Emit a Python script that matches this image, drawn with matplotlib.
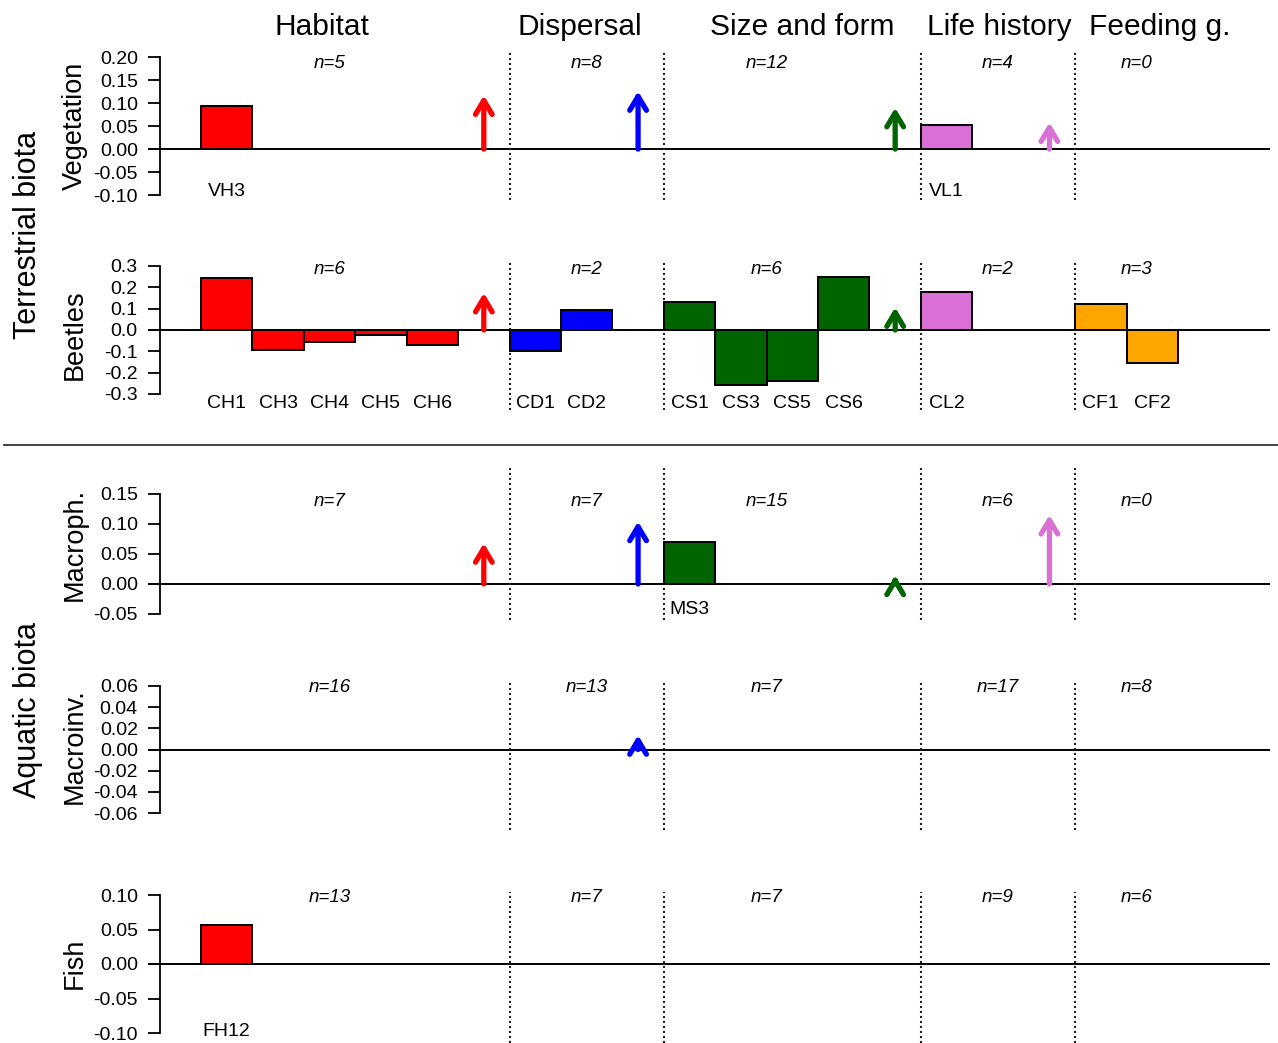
import matplotlib
matplotlib.use('Agg')
import matplotlib.pyplot as plt
from matplotlib.lines import Line2D
from matplotlib.transforms import blended_transform_factory

plt.rcParams['font.family'] = ['Liberation Sans', 'DejaVu Sans']
plt.rcParams['axes.unicode_minus'] = False

# ---------------- data ----------------
groups = ['Habitat', 'Dispersal', 'Size and form', 'Life history', 'Feeding g.']
group_slots = [5, 2, 4, 2, 2]
group_colors = ['#FF0000', '#0000FF', '#006400', '#DA70D6', '#FFA500']

panel_names = ['Vegetation', 'Beetles', 'Macroph.', 'Macroinv.', 'Fish']

veg_n = [5, 8, 12, 4, 0]
beetles_n = [6, 2, 6, 2, 3]
macroph_n = [7, 7, 15, 6, 0]
macroinv_n = [16, 13, 7, 17, 8]
fish_n = [13, 7, 7, 9, 6]

veg_arrows = [0.117, 0.126, 0.090, 0.058, None]
beetles_arrows = [0.174, None, 0.106, None, None]
macroph_arrows = [0.068, 0.104, 0.014, 0.115, None]
macroinv_arrows = [None, 0.0135, None, None, None]
fish_arrows = [None, None, None, None, None]

veg_bar_labels = ['VH3', 'VL1']
veg_bar_groups = ['Habitat', 'Life history']
veg_bar_values = [0.093, 0.053]

beetles_bar_labels = ['CH1', 'CH3', 'CH4', 'CH5', 'CH6', 'CD1', 'CD2',
                      'CS1', 'CS3', 'CS5', 'CS6', 'CL2', 'CF1', 'CF2']
beetles_bar_groups = (['Habitat'] * 5 + ['Dispersal'] * 2 + ['Size and form'] * 4
                      + ['Life history'] + ['Feeding g.'] * 2)
beetles_bar_values = [0.245, -0.093, -0.055, -0.023, -0.070, -0.097, 0.093,
                      0.132, -0.257, -0.238, 0.249, 0.176, 0.120, -0.156]

macroph_bar_labels = ['MS3']
macroph_bar_groups = ['Size and form']
macroph_bar_values = [0.070]

macroinv_bar_labels = []
macroinv_bar_groups = []
macroinv_bar_values = []

fish_bar_labels = ['FH12']
fish_bar_groups = ['Habitat']
fish_bar_values = [0.057]

veg_yticks = [0.20, 0.15, 0.10, 0.05, 0.00, -0.05, -0.10]
beetles_yticks = [0.3, 0.2, 0.1, 0.0, -0.1, -0.2, -0.3]
macroph_yticks = [0.15, 0.10, 0.05, 0.00, -0.05]
macroinv_yticks = [0.06, 0.04, 0.02, 0.00, -0.02, -0.04, -0.06]
fish_yticks = [0.10, 0.05, 0.00, -0.05, -0.10]

# ---------------- layout ----------------
W, H = 1278, 1043
fig = plt.figure(figsize=(W / 100, H / 100), dpi=100)

AX_L, AX_R = 148, 1270          # pixel extent of plot region
X0_PX, UNIT_PX = 201, 51.42     # pixel of x=0 and one slot
xlim = ((AX_L - X0_PX) / UNIT_PX, (AX_R - X0_PX) / UNIT_PX)
spine_frac = (160 - AX_L) / (AX_R - AX_L)

group_start = []
s = 0
for k in group_slots:
    group_start.append(s)
    s += k + 1

n_label_x = [2.5, 7.5, 11.0, 15.5, 18.2]
title_x = [2.35, 7.37, 11.69, 15.52, 18.65]

panels = [
    dict(n=veg_n, arrows=veg_arrows, labels=veg_bar_labels, bgroups=veg_bar_groups,
         values=veg_bar_values, ticks=veg_yticks, fmt='{:.2f}',
         T=52, B=200, pmax=57.3, pmin=195, n_y=63, lab_y=191, ylab_y=126),
    dict(n=beetles_n, arrows=beetles_arrows, labels=beetles_bar_labels,
         bgroups=beetles_bar_groups, values=beetles_bar_values,
         ticks=beetles_yticks, fmt='{:.1f}',
         T=262, B=410, pmax=266, pmin=394, n_y=270, lab_y=403, ylab_y=335),
    dict(n=macroph_n, arrows=macroph_arrows, labels=macroph_bar_labels,
         bgroups=macroph_bar_groups, values=macroph_bar_values,
         ticks=macroph_yticks, fmt='{:.2f}',
         T=468, B=620, pmax=494, pmin=614, n_y=501, lab_y=609, ylab_y=544),
    dict(n=macroinv_n, arrows=macroinv_arrows, labels=macroinv_bar_labels,
         bgroups=macroinv_bar_groups, values=macroinv_bar_values,
         ticks=macroinv_yticks, fmt='{:.2f}',
         T=682, B=830, pmax=686, pmin=813, n_y=688, lab_y=808, ylab_y=746),
    dict(n=fish_n, arrows=fish_arrows, labels=fish_bar_labels,
         bgroups=fish_bar_groups, values=fish_bar_values,
         ticks=fish_yticks, fmt='{:.2f}',
         T=892, B=1043, pmax=895, pmin=1033, n_y=898, lab_y=1030, ylab_y=963),
]

TICK_FS = 14
for name, p in zip(panel_names, panels):
    vmax, vmin = max(p['ticks']), min(p['ticks'])
    scale = (vmax - vmin) / (p['pmin'] - p['pmax'])
    top = vmax + (p['pmax'] - p['T']) * scale
    bot = vmin - (p['B'] - p['pmin']) * scale

    def py2y(py, vmax=vmax, pmax=p['pmax'], scale=scale):
        return vmax - (py - pmax) * scale

    ax = fig.add_axes([AX_L / W, 1 - p['B'] / H, (AX_R - AX_L) / W, (p['B'] - p['T']) / H])
    ax.set_xlim(*xlim)
    ax.set_ylim(bot, top)
    for sp in ['top', 'right', 'bottom']:
        ax.spines[sp].set_visible(False)
    ax.spines['left'].set_position(('axes', spine_frac))
    ax.spines['left'].set_bounds(vmin, vmax)
    ax.spines['left'].set_linewidth(1.3)
    ax.set_xticks([])
    ax.set_yticks(p['ticks'])
    ax.set_yticklabels([p['fmt'].format(t) for t in p['ticks']], fontsize=TICK_FS)
    ax.tick_params(axis='y', length=9, width=1.3, pad=7)
    ax.patch.set_alpha(0)

    # zero line
    ax.axhline(0, color='black', lw=1.4, zorder=1)
    # group separators
    for g in range(1, len(groups)):
        ax.axvline(group_start[g], color='#222222', lw=1.5, ls=(0, (1, 1.4)), zorder=1)

    # bars
    counters = {g: 0 for g in groups}
    for lab, grp, val in zip(p['labels'], p['bgroups'], p['values']):
        gi = groups.index(grp)
        x = group_start[gi] + counters[grp]
        counters[grp] += 1
        ax.bar(x, val, width=1.0, align='edge', color=group_colors[gi],
               edgecolor='black', linewidth=1.4, zorder=3)
        ax.text(x + 0.5, py2y(p['lab_y'] + 1), lab, ha='center', va='center',
                fontsize=TICK_FS)

    # arrows and n labels
    for gi, (grp, nval, arr) in enumerate(zip(groups, p['n'], p['arrows'])):
        ax.text(n_label_x[gi], py2y(p['n_y']), 'n=%d' % nval, ha='center', va='center',
                fontsize=13.5, style='italic')
        if arr is not None:
            xa = group_start[gi] + group_slots[gi] + 0.5
            ax.annotate('', xy=(xa, arr), xytext=(xa, 0),
                        arrowprops=dict(arrowstyle='->,head_length=1.0,head_width=0.6',
                                        mutation_scale=10, lw=3.8,
                                        color=group_colors[gi], shrinkA=0, shrinkB=0,
                                        capstyle='round', joinstyle='round'),
                        zorder=4)

    fig.text(75 / W, 1 - p['ylab_y'] / H, name, rotation=90, ha='center', va='center',
             fontsize=19.5)

    if name == 'Vegetation':
        tr = blended_transform_factory(ax.transData, fig.transFigure)
        for gi, grp in enumerate(groups):
            ax.text(title_x[gi], 1 - 27 / H, grp, transform=tr, ha='center',
                    va='center', fontsize=21.5)

# row labels and separator
fig.text(28 / W, 1 - 235 / H, 'Terrestrial biota', rotation=90, ha='center',
         va='center', fontsize=22)
fig.text(28 / W, 1 - 710 / H, 'Aquatic biota', rotation=90, ha='center',
         va='center', fontsize=22)
fig.add_artist(Line2D([4 / W, 1], [1 - 445 / H] * 2, color='#333333', lw=1.3))

fig.savefig('out.png', dpi=100)
